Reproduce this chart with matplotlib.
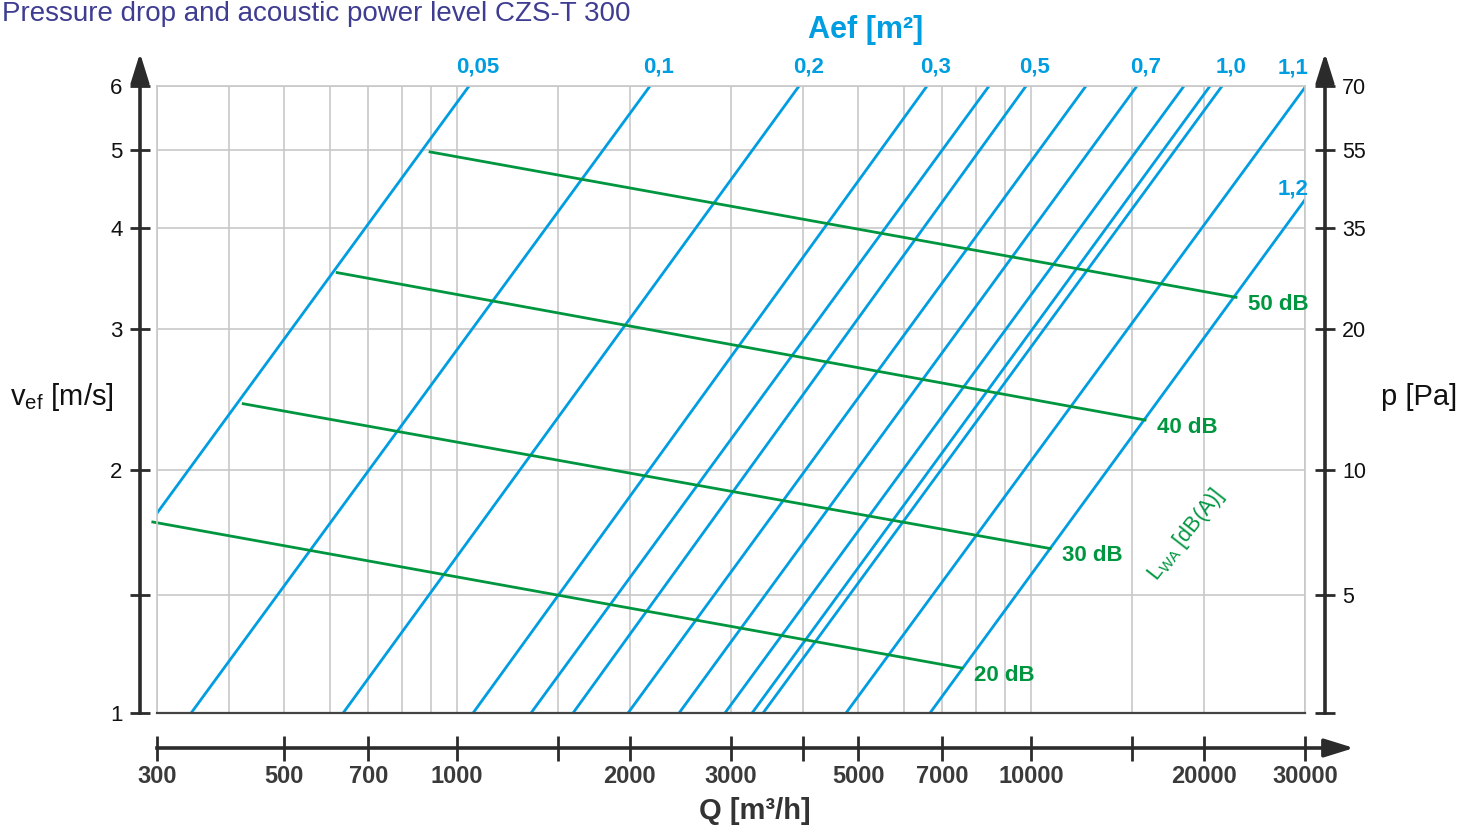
import matplotlib
matplotlib.use("Agg")
import matplotlib.pyplot as plt
from matplotlib.ticker import NullLocator
import numpy as np

plt.rcParams["font.family"] = ["Liberation Sans", "DejaVu Sans"]
plt.rcParams["mathtext.default"] = "regular"

# --- data --------------------------------------------------------------
# effective area lines: flow Q [m3/h] where each line crosses v=1 and v=6 m/s
aef_q_at_v1 = [167, 344, 633, 1066, 1345, 1592, 1985, 2436, 2928, 3265, 3412, 4759, 6665]
aef_q_at_v6 = [1049, 2168, 3942, 6586, 8446, 9798, 12461, 15288, 18462, 20496, 21510, 30120, 41860]
aef_label_text = ["0,05", "0,1", "0,2", "0,3", "0,5", "0,7", "1,0", "1,1", "1,2"]
aef_label_line = [0, 1, 2, 3, 5, 7, 10, 11, 12]

# sound power lines
db_levels = [20, 30, 40, 50]
db_q_start = [295, 424, 618, 897]
db_v_start = [1.726, 2.42, 3.52, 4.97]
db_q_end = [7578, 10790, 15790, 22750]
db_v_end = [1.137, 1.60, 2.31, 3.28]

# axes
v_ticks = [1, 1.4, 2, 3, 4, 5, 6]
v_tick_labels = ["1", "", "2", "3", "4", "5", "6"]
p_tick_labels = ["", "5", "10", "20", "35", "55", "70"]
q_grid = [300, 400, 500, 600, 700, 800, 900, 1000, 1500, 2000, 3000, 4000, 5000,
          6000, 7000, 8000, 9000, 10000, 15000, 20000, 30000]
q_ticks = [300, 500, 700, 1000, 1500, 2000, 3000, 4000, 5000, 7000, 10000, 15000, 20000, 30000]
q_tick_labels = ["300", "500", "700", "1000", "", "2000", "3000", "", "5000", "7000",
                 "10000", "", "20000", "30000"]

BLUE = "#009ee0"
GREEN = "#009640"
DARK = "#2b2b2b"
GRID = "#c8c8c8"

W, H = 1479, 830
fig = plt.figure(figsize=(W / 100, H / 100), dpi=100)
ax = fig.add_axes([157 / W, 117 / H, 1148 / W, 627 / H])
ax.set_xscale("log")
ax.set_yscale("log")
ax.set_xlim(300, 30000)
ax.set_ylim(1, 6)

# grid only on the main axes
ax.set_xticks(q_grid)
ax.set_yticks(v_ticks)
ax.xaxis.set_minor_locator(NullLocator())
ax.yaxis.set_minor_locator(NullLocator())
ax.tick_params(length=0, labelbottom=False, labelleft=False)
ax.grid(True, color=GRID, lw=1.2)
for s in ["left", "top", "right"]:
    ax.spines[s].set_color(GRID)
    ax.spines[s].set_linewidth(1.2)
ax.spines["bottom"].set_color("#444444")
ax.spines["bottom"].set_linewidth(1.6)


def v_on_line(q, q1, q6):
    t = (np.log10(q) - np.log10(q1)) / (np.log10(q6) - np.log10(q1))
    return 10 ** (np.log10(6) * t)


for q1, q6 in zip(aef_q_at_v1, aef_q_at_v6):
    ax.plot([q1, q6], [1, 6], color=BLUE, lw=2.0, solid_capstyle="butt")

for i, txt in zip(aef_label_line, aef_label_text):
    q1, q6 = aef_q_at_v1[i], aef_q_at_v6[i]
    if q6 <= 30000:
        xy, off, ha = (q6, 6), (9, 19), "center"
    else:
        xy = (30000, v_on_line(30000, q1, q6))
        off, ha = ((3, 19), "right") if txt == "1,1" else ((3, 11), "right")
    ax.annotate(txt, xy=xy, xytext=off, textcoords="offset pixels", ha=ha, va="center",
                color=BLUE, fontsize=16, fontweight="bold", annotation_clip=False)

for lvl, qs, vs, qe, ve in zip(db_levels, db_q_start, db_v_start, db_q_end, db_v_end):
    ax.plot([qs, qe], [vs, ve], color=GREEN, lw=2.0, clip_on=False)
    ax.annotate(f"{lvl} dB", xy=(qe, ve), xytext=(12, -7), textcoords="offset pixels",
                ha="left", va="center", color=GREEN, fontsize=16, fontweight="bold")

ax.text(1186 / W, 295 / H, "L$_{WA}$ [dB(A)]", transform=fig.transFigure, rotation=52,
        ha="center", va="center", color=GREEN, fontsize=15.5, rotation_mode="anchor")

# left velocity axis
ax_v = ax.secondary_yaxis(-17 / 1148)
ax_v.set_yticks(v_ticks, labels=v_tick_labels)
ax_v.yaxis.set_minor_locator(NullLocator())
ax_v.spines["left"].set_color(DARK)
ax_v.spines["left"].set_linewidth(2.6)
ax_v.tick_params(direction="inout", length=15, width=2, color=DARK, pad=5,
                 labelsize=16, labelcolor="#111111")

# right pressure axis
ax_p = ax.secondary_yaxis(1 + 20 / 1148)
ax_p.set_yticks(v_ticks, labels=p_tick_labels)
ax_p.yaxis.set_minor_locator(NullLocator())
ax_p.spines["right"].set_color(DARK)
ax_p.spines["right"].set_linewidth(2.6)
ax_p.tick_params(direction="inout", length=15, width=2, color=DARK, pad=5,
                 labelsize=15.5, labelcolor="#111111")

# bottom flow axis
ax_q = ax.secondary_xaxis(-35 / 627)
ax_q.set_xticks(q_ticks, labels=q_tick_labels)
ax_q.xaxis.set_minor_locator(NullLocator())
ax_q.spines["bottom"].set_color(DARK)
ax_q.spines["bottom"].set_linewidth(2.6)
ax_q.tick_params(direction="inout", length=18, width=2, color=DARK, pad=3,
                 labelsize=17, labelcolor="#3a3a3a")
for t in ax_q.get_xticklabels():
    t.set_fontweight("bold")

# axis arrows
arrow = dict(arrowstyle="-|>,head_length=0.9,head_width=0.28", color=DARK, lw=2.6,
             mutation_scale=20, shrinkA=0, shrinkB=0)
ax.annotate("", xy=(140, H - 53), xycoords="figure pixels", xytext=(140, H - 86),
            textcoords="figure pixels", arrowprops=arrow)
ax.annotate("", xy=(1325, H - 53), xycoords="figure pixels", xytext=(1325, H - 86),
            textcoords="figure pixels", arrowprops=arrow)
ax.annotate("", xy=(1354, H - 748), xycoords="figure pixels", xytext=(1305, H - 748),
            textcoords="figure pixels", arrowprops=arrow)

# titles and axis names
fig.text(2 / W, 1 - 21 / H, "Pressure drop and acoustic power level CZS-T 300",
         ha="left", va="baseline", color="#3f3d91", fontsize=20)
fig.text(866 / W, 1 - 30 / H, "Aef [m²]", ha="center", va="center", color=BLUE,
         fontsize=22, fontweight="bold")
fig.text(10 / W, 1 - 397 / H, "v$_{ef}$ [m/s]", ha="left", va="center", color="#111111",
         fontsize=21)
fig.text(1419 / W, 1 - 397 / H, "p [Pa]", ha="center", va="center", color="#111111",
         fontsize=21)
fig.text(755 / W, 1 - 811 / H, "Q [m³/h]", ha="center", va="center", color="#333333",
         fontsize=21, fontweight="bold")

fig.savefig("out.png", dpi=100)
